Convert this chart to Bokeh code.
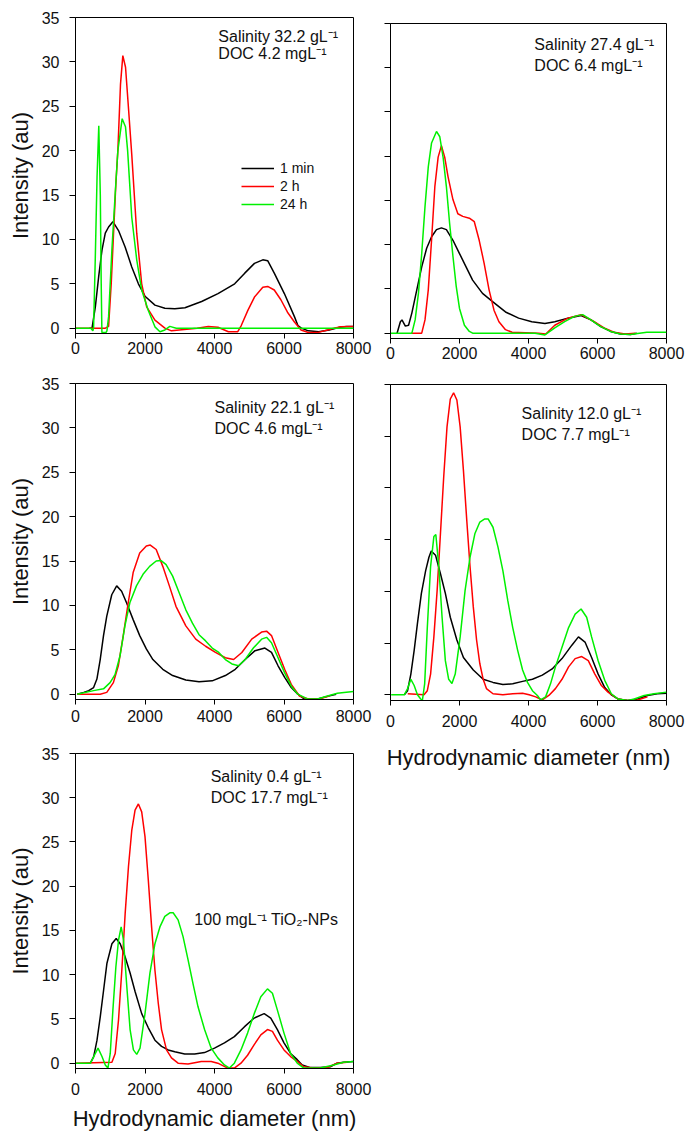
from bokeh.plotting import figure
from bokeh.models import Range1d, FixedTicker, Label
from bokeh.layouts import row, column
from bokeh.embed import file_html
from bokeh.resources import INLINE

# ---------------- data ----------------
SERIES = ["1 min", "2 h", "24 h"]
X_TICKS = [0, 2000, 4000, 6000, 8000]
Y_TICKS_35 = [0, 5, 10, 15, 20, 25, 30, 35]
Y_TICKS_30 = [0, 5, 10, 15, 20, 25, 30]

# Panel 1: Salinity 32.2 g/L, DOC 4.2 mg/L
p1_x_1min = [400, 476, 571, 667, 762, 857, 952, 1076, 1238, 1428, 1619, 1810, 2000, 2286, 2572, 2857, 3150, 3630, 4100, 4580, 4870, 5150, 5390, 5530, 5720, 6010, 6300, 6400, 6500, 6700, 7000, 7300, 7600, 7800, 8000]
p1_y_1min = [0, 0, 2.4, 5.8, 8.8, 10.7, 11.4, 12.0, 11.0, 9.15, 6.9, 5.0, 3.6, 2.6, 2.25, 2.2, 2.3, 3.0, 3.9, 5.0, 6.2, 7.3, 7.7, 7.6, 6.2, 3.9, 1.3, 0.3, 0.0, -0.3, -0.4, -0.2, 0.1, 0.2, 0.2]
p1_x_2h = [0, 860, 952, 1028, 1095, 1162, 1219, 1295, 1362, 1440, 1530, 1620, 1762, 1905, 2048, 2286, 2572, 2762, 3500, 3820, 4100, 4400, 4670, 4770, 4960, 5150, 5390, 5530, 5720, 5910, 6100, 6300, 6490, 6680, 6960, 7250, 7440, 7630, 8000]
p1_y_2h = [0, 0, 0.2, 5.0, 10.7, 16.3, 20.0, 27.5, 30.7, 29.4, 24.5, 19.5, 10.7, 5.0, 2.4, 0.9, 0.0, -0.3, 0.0, 0.2, 0.1, -0.4, -0.4, 0.3, 2.0, 3.5, 4.6, 4.7, 4.3, 3.2, 1.8, 0.7, -0.2, -0.45, -0.5, -0.2, 0.0, 0.15, 0.2]
p1_x_24h = [0, 440, 500, 520, 570, 620, 670, 714, 740, 760, 875, 905, 952, 1047, 1143, 1219, 1343, 1438, 1500, 1619, 1762, 1905, 2095, 2286, 2430, 2572, 2715, 2900, 8000]
p1_y_24h = [0, 0, -0.3, 0, 8.0, 17.0, 22.8, 15.0, 5.0, -0.5, -0.5, -0.3, 1.3, 8.8, 15.2, 20.0, 23.6, 22.7, 20.0, 12.5, 7.7, 4.3, 2.0, 0.15, -0.4, -0.2, 0.2, 0.0, 0.0]

# Panel 2: Salinity 27.4 g/L, DOC 6.4 mg/L
p2_x_1min = [190, 286, 333, 430, 524, 620, 762, 905, 1048, 1190, 1333, 1476, 1620, 1810, 2000, 2190, 2380, 2667, 2950, 3333, 3714, 4095, 4476, 4762, 5143, 5524, 5810, 6095, 6381, 6667, 6952, 7140]
p2_y_1min = [0, 1.3, 1.5, 0.8, 0.9, 2.3, 4.9, 7.5, 9.6, 10.9, 11.7, 11.9, 11.7, 10.5, 9.0, 7.5, 6.0, 4.5, 3.6, 2.4, 1.7, 1.3, 1.1, 1.3, 1.7, 2.0, 1.5, 0.75, 0.2, -0.1, -0.15, 0.0]
p2_x_2h = [600, 905, 1000, 1095, 1190, 1286, 1381, 1476, 1571, 1667, 1810, 1952, 2095, 2286, 2429, 2571, 2714, 2857, 3000, 3143, 3333, 3524, 4286, 4500, 4762, 5143, 5524, 5905, 6190, 6476, 6800, 7100]
p2_y_2h = [0, 0, 1.5, 4.9, 10.5, 16.6, 19.9, 21.2, 19.9, 17.7, 15.1, 13.5, 13.2, 13.0, 12.6, 10.5, 7.9, 4.9, 2.6, 1.3, 0.4, 0.1, 0.0, -0.1, 0.9, 1.7, 2.1, 1.3, 0.6, 0.1, -0.1, 0.0]
p2_x_24h = [0, 620, 714, 810, 905, 1000, 1095, 1190, 1333, 1429, 1524, 1619, 1714, 1810, 1905, 2000, 2143, 2286, 2381, 4190, 4476, 4762, 5048, 5333, 5571, 5810, 6095, 6381, 6667, 6952, 7429, 8000]
p2_y_24h = [0, 0, 1.5, 4.5, 9.0, 14.3, 18.8, 21.5, 22.8, 22.2, 19.9, 16.6, 12.4, 8.7, 5.3, 2.8, 0.9, 0.2, 0.0, 0.0, -0.2, 0.6, 1.3, 1.9, 2.1, 1.5, 0.75, 0.2, -0.1, -0.15, 0.1, 0.1]

# Panel 3: Salinity 22.1 g/L, DOC 4.6 mg/L
p3_x_1min = [47, 237, 380, 521, 616, 711, 806, 900, 1043, 1185, 1327, 1469, 1659, 1848, 2038, 2227, 2512, 2796, 3175, 3555, 3934, 4313, 4597, 4882, 5166, 5450, 5640, 5829, 6019, 6209, 6398, 6588, 6967, 7251, 7500]
p3_y_1min = [0, 0.2, 0.4, 0.75, 1.7, 3.9, 6.6, 8.8, 11.2, 12.2, 11.6, 10.3, 8.4, 6.6, 5.1, 3.9, 2.8, 2.1, 1.6, 1.4, 1.5, 2.1, 2.8, 3.9, 4.9, 5.2, 4.7, 3.2, 1.9, 0.75, 0.0, -0.55, -0.55, -0.25, 0.0]
p3_x_2h = [47, 711, 900, 1090, 1232, 1374, 1517, 1659, 1848, 2038, 2152, 2322, 2512, 2701, 2891, 3175, 3460, 3744, 4028, 4313, 4550, 4787, 5071, 5355, 5498, 5640, 5829, 6019, 6209, 6445, 6700, 7000, 7300]
p3_y_2h = [0, 0, 0.2, 1.3, 3.2, 6.6, 10.3, 13.7, 15.9, 16.7, 16.8, 16.3, 14.4, 12.2, 9.9, 7.7, 6.2, 5.4, 4.7, 4.1, 3.9, 4.7, 6.2, 7.0, 7.1, 6.6, 4.7, 2.8, 1.1, -0.2, -0.55, -0.55, -0.2]
p3_x_24h = [47, 521, 806, 995, 1137, 1280, 1422, 1564, 1754, 1943, 2133, 2322, 2464, 2607, 2796, 2986, 3175, 3365, 3555, 3744, 3934, 4123, 4313, 4502, 4692, 4882, 5118, 5355, 5498, 5640, 5829, 6019, 6209, 6398, 6682, 6967, 7251, 7536, 7725, 8000]
p3_y_24h = [0, 0.4, 0.6, 1.3, 2.2, 4.3, 7.7, 10.3, 12.2, 13.5, 14.4, 15.0, 15.05, 14.6, 13.3, 11.4, 9.5, 8.0, 6.7, 6.0, 5.2, 4.7, 3.9, 3.4, 3.2, 3.9, 5.2, 6.2, 6.4, 5.8, 4.1, 2.4, 0.9, 0.0, -0.55, -0.55, -0.2, 0.1, 0.2, 0.3]

# Panel 4: Salinity 12.0 g/L, DOC 7.7 mg/L (axis 0-30)
p4_x_1min = [400, 495, 590, 686, 781, 895, 1019, 1114, 1181, 1305, 1448, 1590, 1733, 1924, 2114, 2400, 2686, 2971, 3257, 3543, 3829, 4114, 4400, 4686, 4971, 5257, 5448, 5638, 5829, 6019, 6210, 6400, 6590, 6876, 7162, 7448, 7733, 8000]
p4_y_1min = [0, 0.4, 2.0, 4.3, 6.9, 9.8, 12.0, 13.3, 13.9, 13.5, 11.7, 9.8, 7.5, 5.3, 3.6, 2.4, 1.5, 1.2, 1.0, 1.06, 1.3, 1.5, 1.9, 2.5, 3.5, 4.8, 5.6, 5.1, 3.6, 2.0, 0.7, 0.0, -0.4, -0.55, -0.4, -0.06, 0.1, 0.16]
p4_x_2h = [500, 971, 1067, 1162, 1257, 1352, 1448, 1543, 1638, 1733, 1829, 1924, 2019, 2114, 2210, 2305, 2400, 2495, 2590, 2686, 2781, 2971, 3257, 3543, 3829, 4019, 4210, 4400, 4590, 4781, 4971, 5162, 5352, 5543, 5733, 5924, 6114, 6305, 6590, 6876, 7162, 7448]
p4_y_2h = [0.1, 0, 0.4, 2.0, 5.6, 10.1, 15.6, 21.1, 25.9, 28.6, 29.2, 28.5, 25.9, 21.7, 16.9, 12.4, 8.5, 5.3, 3.0, 1.5, 0.6, 0.1, 0.0, 0.1, 0.16, 0.0, -0.2, -0.5, -0.06, 0.6, 1.5, 2.7, 3.5, 3.7, 3.3, 2.0, 0.9, 0.26, -0.4, -0.55, -0.5, -0.2]
p4_x_24h = [19, 400, 495, 590, 686, 781, 876, 924, 990, 1067, 1162, 1257, 1314, 1400, 1495, 1590, 1686, 1781, 1876, 2019, 2162, 2305, 2448, 2590, 2733, 2829, 2971, 3114, 3257, 3400, 3543, 3686, 3829, 3971, 4114, 4257, 4352, 4495, 4638, 4781, 4971, 5162, 5352, 5524, 5686, 5829, 6019, 6210, 6400, 6590, 6876, 7067, 7352, 7638, 8000]
p4_y_24h = [0, 0, 0.6, 1.5, 0.9, 0.0, -0.4, -0.55, 1.06, 6.5, 12.4, 15.3, 15.5, 12.4, 7.5, 3.3, 1.5, 1.1, 2.0, 5.6, 10.1, 13.3, 15.6, 16.7, 17.0, 17.0, 16.2, 14.3, 12.0, 9.1, 6.5, 4.3, 2.4, 1.2, 0.4, -0.06, -0.5, -0.2, 1.06, 2.7, 4.6, 6.5, 7.8, 8.3, 7.5, 5.6, 3.3, 1.4, 0.1, -0.4, -0.55, -0.4, -0.06, 0.1, 0.26]

# Panel 5: Salinity 0.4 g/L, DOC 17.7 mg/L
p5_x_1min = [429, 524, 619, 714, 810, 905, 1048, 1171, 1286, 1429, 1571, 1714, 1905, 2095, 2286, 2476, 2667, 2857, 3143, 3429, 3714, 4000, 4286, 4571, 4857, 5143, 5429, 5619, 5810, 6000, 6190, 6381, 6524, 6762, 7048, 7333, 7524, 7714, 8000]
p5_y_1min = [0, 0.75, 2.6, 5.3, 8.3, 11.3, 13.5, 14.1, 13.5, 12.0, 10.2, 8.1, 5.6, 4.0, 2.6, 1.9, 1.5, 1.3, 1.05, 1.05, 1.2, 1.7, 2.3, 3.0, 4.1, 5.1, 5.6, 5.1, 3.8, 2.3, 1.1, 0.4, -0.2, -0.5, -0.5, -0.4, 0.0, 0.1, 0.2]
p5_x_2h = [0, 1048, 1143, 1238, 1333, 1429, 1524, 1619, 1714, 1810, 1905, 2000, 2095, 2190, 2286, 2381, 2476, 2619, 2762, 2952, 3238, 3619, 3905, 4095, 4381, 4571, 4762, 4952, 5143, 5333, 5524, 5667, 5810, 6000, 6190, 6381, 6571, 6857, 7238, 7524, 7810]
p5_y_2h = [0, 0.1, 1.1, 4.9, 10.5, 16.9, 22.2, 26.3, 28.6, 29.3, 28.4, 25.6, 20.7, 15.4, 10.5, 6.8, 3.8, 1.5, 0.6, 0.0, -0.1, 0.2, 0.2, 0.0, -0.55, -0.55, 0.0, 0.9, 2.1, 3.2, 3.8, 3.6, 2.6, 1.5, 0.75, 0.2, -0.4, -0.55, -0.5, 0.0, 0.1]
p5_x_24h = [0, 429, 524, 648, 762, 857, 933, 1000, 1076, 1162, 1238, 1314, 1381, 1476, 1571, 1667, 1762, 1857, 2000, 2143, 2286, 2429, 2571, 2714, 2810, 2952, 3095, 3238, 3381, 3524, 3714, 3905, 4095, 4286, 4429, 4571, 4762, 4952, 5143, 5333, 5524, 5667, 5810, 6000, 6190, 6381, 6571, 7048, 7429, 7714, 8000]
p5_y_24h = [0, 0, 0.75, 1.7, 0.75, -0.2, -0.55, 1.1, 6.0, 10.9, 13.9, 15.4, 13.9, 8.7, 3.8, 1.5, 1.0, 1.7, 5.6, 10.2, 13.5, 15.4, 16.6, 17.0, 17.0, 16.2, 14.3, 11.7, 9.0, 6.4, 3.8, 1.7, 0.6, -0.2, -0.55, 0.0, 1.5, 3.4, 5.6, 7.5, 8.4, 7.9, 6.0, 3.4, 1.1, 0.0, -0.55, -0.55, -0.2, 0.1, 0.2]

PANEL_TEXT = [
    ("Salinity 32.2 gL\u207b\u00b9", "DOC 4.2 mgL\u207b\u00b9"),
    ("Salinity 27.4 gL\u207b\u00b9", "DOC 6.4 mgL\u207b\u00b9"),
    ("Salinity 22.1 gL\u207b\u00b9", "DOC 4.6 mgL\u207b\u00b9"),
    ("Salinity 12.0 gL\u207b\u00b9", "DOC 7.7 mgL\u207b\u00b9"),
    ("Salinity 0.4 gL\u207b\u00b9", "DOC 17.7 mgL\u207b\u00b9"),
]
NP_TEXT = "100 mgL\u207b\u00b9 TiO\u2082-NPs"
Y_TITLE = "Intensity (au)"
X_TITLE = "Hydrodynamic diameter (nm)"

COLORS = ["#000000", "#ff0000", "#00f000"]
FONT = "Liberation Sans"


def make_panel(width, height, borders, series, ymax, y_ticks, texts, text_pos,
               y_labels=True, y_title=False, x_title=False,
               x_standoff=5, title_standoff=6, legend=False):
    left, right, top, bottom = borders
    p = figure(width=width, height=height, output_backend="svg",
               toolbar_location=None, x_range=Range1d(0, 8000),
               y_range=Range1d(-0.6 if ymax == 35 else -0.55, ymax),
               min_border_left=left, min_border_right=right,
               min_border_top=top, min_border_bottom=bottom)
    p.background_fill_color = "white"
    p.border_fill_color = "white"
    p.outline_line_color = "black"
    p.outline_line_width = 1
    p.grid.visible = False
    for ax in (p.xaxis[0], p.yaxis[0]):
        ax.axis_line_color = "black"
        ax.major_tick_line_color = "black"
        ax.major_tick_in = 0
        ax.major_tick_out = 5
        ax.minor_tick_line_color = None
        ax.major_label_text_font = FONT
        ax.major_label_text_font_size = "16px"
        ax.major_label_text_color = "#111111"
        ax.axis_label_text_font = FONT
        ax.axis_label_text_font_size = "22px"
        ax.axis_label_text_font_style = "normal"
        ax.axis_label_text_color = "#111111"
    p.xaxis.ticker = FixedTicker(ticks=X_TICKS)
    p.yaxis.ticker = FixedTicker(ticks=y_ticks)
    p.xaxis.major_label_standoff = x_standoff
    p.yaxis.major_tick_out = 6
    p.yaxis.major_label_standoff = 10
    if not y_labels:
        p.yaxis.major_label_text_color = None
        p.yaxis.major_label_standoff = 0
    if y_title:
        p.yaxis.axis_label = Y_TITLE
        p.yaxis.axis_label_standoff = 6
    if x_title:
        p.xaxis.axis_label = X_TITLE
        p.xaxis.axis_label_standoff = title_standoff
    for (xs, ys), name, c in zip(series, SERIES, COLORS):
        kw = dict(legend_label=name) if legend else {}
        p.line(xs, ys, line_color=c, line_width=1.5, **kw)
    (tx, ty1, ty2) = text_pos
    for t, ty in zip(texts, (ty1, ty2)):
        p.add_layout(Label(x=tx, y=ty, y_offset=6, text=t, text_font=FONT,
                           text_font_size="16px", text_color="#111111",
                           text_baseline="alphabetic"))
    return p


# Column 1 (x 0..375), column 2 (x 375..688); page has no body margin
f1 = make_panel(375, 368, (73, 22, 17, 35),
                [(p1_x_1min, p1_y_1min), (p1_x_2h, p1_y_2h), (p1_x_24h, p1_y_24h)],
                35, Y_TICKS_35, PANEL_TEXT[0], (4110, 32.2, 30.3),
                y_title=True, x_standoff=3, legend=True)
lg = f1.legend[0]
lg.location = (166, 120)
lg.padding = 0
lg.margin = 0
lg.spacing = 0
lg.border_line_color = None
lg.background_fill_alpha = 0
lg.glyph_width = 33
lg.glyph_height = 18
lg.label_height = 18
lg.label_standoff = 6
lg.label_text_font = FONT
lg.label_text_font_size = "14px"
lg.label_text_color = "#111111"

f2 = make_panel(313, 368, (15, 18, 23, 30),
                [(p2_x_1min, p2_y_1min), (p2_x_2h, p2_y_2h), (p2_x_24h, p2_y_24h)],
                35, Y_TICKS_35, PANEL_TEXT[1], (4170, 31.9, 29.6),
                y_labels=False, x_standoff=3)

f3 = make_panel(375, 368, (75, 18, 15, 37),
                [(p3_x_1min, p3_y_1min), (p3_x_2h, p3_y_2h), (p3_x_24h, p3_y_24h)],
                35, Y_TICKS_35, PANEL_TEXT[2], (4000, 31.6, 29.3),
                y_title=True, x_standoff=5)

f4 = make_panel(313, 408, (11, 22, 16, 76),
                [(p4_x_1min, p4_y_1min), (p4_x_2h, p4_y_2h), (p4_x_24h, p4_y_24h)],
                30, Y_TICKS_30, PANEL_TEXT[3], (3800, 26.6, 24.6),
                y_labels=False, x_title=True, x_standoff=9, title_standoff=15)

f5 = make_panel(375, 400, (73, 20, 17, 68),
                [(p5_x_1min, p5_y_1min), (p5_x_2h, p5_y_2h), (p5_x_24h, p5_y_24h)],
                35, Y_TICKS_35, PANEL_TEXT[4], (3890, 31.7, 29.35),
                y_title=True, x_title=True, x_standoff=9, title_standoff=8)
f5.add_layout(Label(x=3420, y=15.6, y_offset=6, text=NP_TEXT, text_font=FONT,
                    text_font_size="16px", text_color="#111111",
                    text_baseline="alphabetic"))

layout = row(column(f1, f3, f5), column(f2, f4))

with open("out.html", "w") as fh:
    fh.write(file_html(layout, INLINE))
